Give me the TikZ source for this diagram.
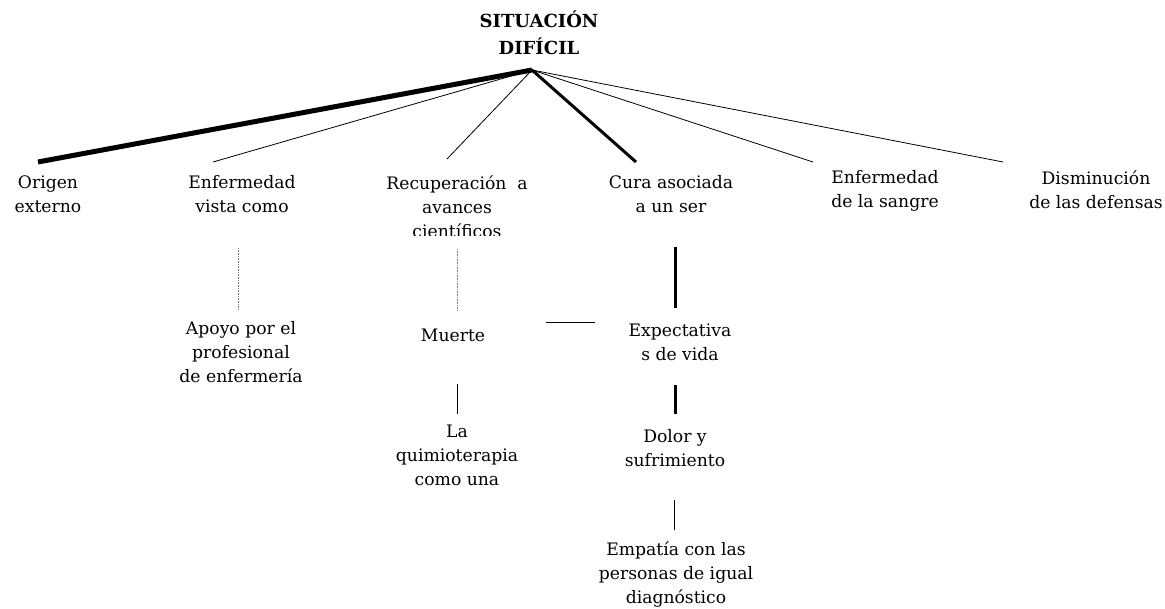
\documentclass[tikz,border=0pt]{standalone}
\usepackage{fontspec}
\setmainfont{DejaVu Serif}
\begin{document}
\begin{tikzpicture}[x=1pt,y=-1pt,
  lbl/.style={anchor=north,inner sep=0pt,align=center,
    font=\fontsize{17.2}{24}\selectfont,execute at begin node=\strut},
  ttl/.style={anchor=north,inner sep=0pt,align=center,
    font=\fontsize{18}{27}\selectfont\bfseries,execute at begin node=\strut},
  thin/.style={line width=0.8pt},
  heavy/.style={line width=5pt},
  bold/.style={line width=3pt},
  faint/.style={line width=0.6pt,gray,densely dotted}]
\useasboundingbox (0,0) rectangle (1165,609);
\fill[white] (0,0) rectangle (1165,609);

\node[ttl] (title) at (539,10.5) {SITUACIÓN\\DIFÍCIL};
\coordinate (apex) at (532,70);

\node[lbl] (origen) at (48,175.2) {Origen\\externo};
\node[lbl] (enfvista) at (242,175.2) {Enfermedad\\vista como};
\begin{scope}
  \clip (370,160) rectangle (545,236);
  \node[lbl] (recup) at (457,175.2) {Recuperación \ a\\avances\\científicos};
\end{scope}
\node[lbl] (cura) at (671,175.2) {Cura asociada\\a un ser};
\node[lbl] (enfsangre) at (885,170.2) {Enfermedad\\de la sangre};
\node[lbl] (dismin) at (1096,170.2) {Disminución\\de las defensas};

\node[lbl] (apoyo) at (241,321.2) {Apoyo por el\\profesional\\de enfermería};
\node[lbl] (muerte) at (453,324.2) {Muerte};
\node[lbl] (expect) at (680,323.2) {Expectativa\\s de vida};
\node[lbl] (quimio) at (457,425.2) {La\\quimioterapia\\como una};
\node[lbl] (dolor) at (675,429.2) {Dolor y\\sufrimiento};
\node[lbl] (empatia) at (676,541.2) {Empatía con las\\personas de igual\\diagnóstico};

% connector end points
\coordinate (e-origen) at (38,162);
\coordinate (e-enfvista) at (213,162);
\coordinate (e-recup) at (447,159);
\coordinate (e-cura) at (636,162);
\coordinate (e-enfsangre) at (813,162);
\coordinate (e-dismin) at (1003,162);

\draw[heavy] (apex) -- (e-origen);
\draw[thin] (apex) -- (e-enfvista);
\draw[thin] (apex) -- (e-recup);
\draw[bold] (apex) -- (e-cura);
\draw[thin] (apex) -- (e-enfsangre);
\draw[thin] (apex) -- (e-dismin);

\coordinate (a1) at (238,248); \coordinate (a2) at (238,310);
\draw[faint] (a1) -- (a2);
\coordinate (b1) at (457,249); \coordinate (b2) at (457,310);
\draw[faint] (b1) -- (b2);
\coordinate (c1) at (675,247); \coordinate (c2) at (675,308);
\draw[bold] (c1) -- (c2);
\coordinate (m1) at (546,322); \coordinate (m2) at (595,322);
\draw[thin] (m1) -- (m2);
\coordinate (d1) at (457,384); \coordinate (d2) at (457,414);
\draw[thin] (d1) -- (d2);
\coordinate (f1) at (675,385); \coordinate (f2) at (675,414);
\draw[bold] (f1) -- (f2);
\coordinate (g1) at (674,500); \coordinate (g2) at (674,530);
\draw[thin] (g1) -- (g2);
\end{tikzpicture}
\end{document}
